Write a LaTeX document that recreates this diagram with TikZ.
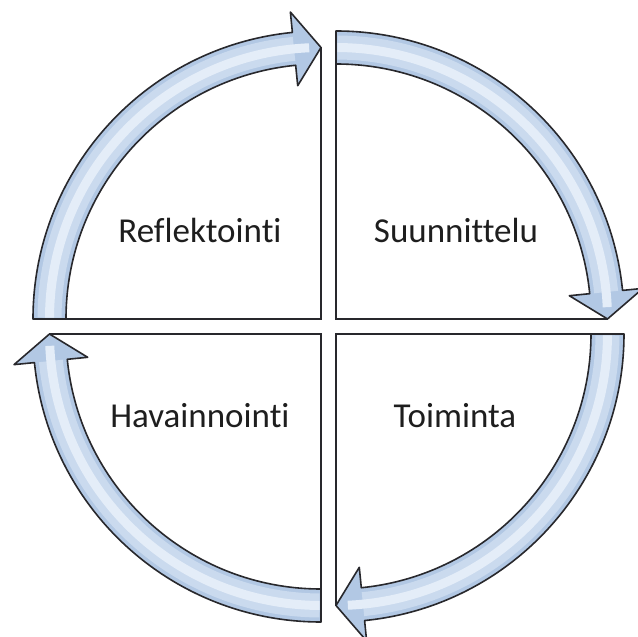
\documentclass[tikz,border=0pt]{standalone}
\usepackage{fontspec}
\setsansfont{Carlito}[Ligatures=NoCommon]
\usetikzlibrary{positioning}
\definecolor{tubec}{RGB}{178,200,228}
\definecolor{midc}{RGB}{202,218,238}
\definecolor{glowc}{RGB}{228,237,248}
\definecolor{edgec}{RGB}{40,40,44}
\definecolor{textc}{RGB}{30,30,30}

\begin{document}
\begin{tikzpicture}[x=1pt, y=1pt,
    lab/.style={font=\sffamily\fontsize{35}{42}\selectfont, text=textc,
      anchor=base},
    tube/.style={draw=edgec, line width=1.6pt, fill=tubec, line join=round},
    glowa/.style={midc, line width=24pt},
    glowb/.style={glowc, line width=9pt},
    quad/.style={draw=edgec, line width=1.8pt}]
  \useasboundingbox (-328.5,-310.5) rectangle (309.5,326.5);
  % one quarter of the cycle, turned four times
  \foreach \a in {0,90,180,270} {
    \begin{scope}[rotate=\a, shift={(7.5,7.5)}]
      \draw[tube] (90:255) -- (90:288)
        arc[start angle=90, end angle=5.7, radius=288]
        -- (5.7:308.5) -- (0:271.5) -- (5.7:234.5) -- (5.7:255)
        arc[start angle=5.7, end angle=90, radius=255] -- cycle;
      \draw[glowa] (89.7:271.5) arc[start angle=89.7, end angle=5.7, radius=271.5];
      \draw[glowb] (89.7:271.5) arc[start angle=89.7, end angle=2.5, radius=271.5];
      \draw[quad] (0,288) -- (0,0) -- (271.5,0);
    \end{scope}
  }
  \node[lab] (refl) at (-128.5,83.5) {Reflektointi};
  \node[lab] (suun) at (127.5,83.5) {Suunnittelu};
  \node[lab] (hava) at (-128.5,-101.5) {Havainnointi};
  \node[lab] (toim) at (126.5,-101.5) {Toiminta};
\end{tikzpicture}
\end{document}
